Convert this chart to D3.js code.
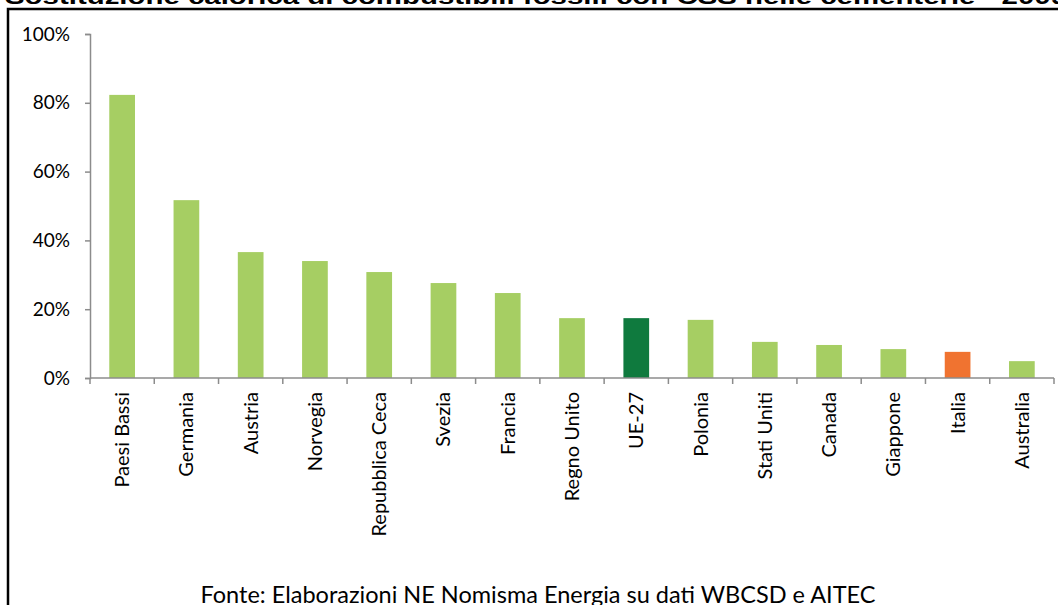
<!DOCTYPE html>
<html>
<head>
<meta charset="utf-8">
<script src="https://cdn.jsdelivr.net/npm/d3@7"></script>
<style>
  body{margin:0;background:#fff;}
  svg{display:block;}
</style>
</head>
<body>
<svg id="chart" width="1058" height="605"></svg>
<script>
// data
var categories = ["Paesi Bassi","Germania","Austria","Norvegia","Repubblica Ceca","Svezia","Francia","Regno Unito","UE-27","Polonia","Stati Uniti","Canada","Giappone","Italia","Australia"];
var values = [0.823,0.517,0.366,0.340,0.308,0.276,0.247,0.174,0.174,0.169,0.105,0.096,0.084,0.076,0.049];
var highlight = {"UE-27":"#0f7a3e","Italia":"#f07330"};
var yTicks = [0,0.2,0.4,0.6,0.8,1];
var title = "Sostituzione calorica di combustibili fossili con CSS nelle cementerie - 2009";
var source = "Fonte: Elaborazioni NE Nomisma Energia su dati WBCSD e AITEC";

var svg = d3.select("#chart");
var mLeft = 90, mRight = 1054, mTop = 34, mBottom = 378;

// title, cut off by the top of the frame
svg.append("text")
	.attr("x",5)
	.attr("y",4)
	.attr("font-family","Liberation Sans, Arial, sans-serif")
	.attr("font-weight","bold")
	.attr("font-size",22)
	.attr("textLength",1062)
	.attr("lengthAdjust","spacingAndGlyphs")
	.attr("fill","#000")
	.text(title);

// frame
svg.append("path")
	.attr("d","M8,605 L8,9 L1058,9")
	.attr("fill","none")
	.attr("stroke","#000")
	.attr("stroke-width",2.5);

var x = d3.scaleBand()
	.domain(categories)
	.range([mLeft,mRight])
	.paddingInner(0.6)
	.paddingOuter(0.3);

var y = d3.scaleLinear()
	.domain([0,1])
	.range([mBottom,mTop]);

svg.selectAll("rect.bar")
	.data(values)
	.enter()
	.append("rect")
	.attr("class","bar")
	.attr("x",function(d,i){ return x(categories[i]); })
	.attr("y",function(d){ return y(d); })
	.attr("width",x.bandwidth())
	.attr("height",function(d){ return y(0)-y(d); })
	.attr("fill",function(d,i){ return highlight[categories[i]] || "#a6ce63"; });

// y axis
var yAxis = svg.append("g")
	.attr("transform","translate("+mLeft+",0)")
	.call(d3.axisLeft(y).tickValues(yTicks).tickFormat(d3.format(".0%")).tickSize(5).tickPadding(15));
yAxis.select(".domain").attr("stroke","#8c8c8c").attr("stroke-width",1.5);
yAxis.selectAll(".tick line").attr("stroke","#8c8c8c").attr("stroke-width",1.5);
yAxis.selectAll("text")
	.attr("font-family","Lato, sans-serif")
	.attr("font-size",19)
	.attr("fill","#000");

// x axis with ticks between categories
var xg = svg.append("g");
xg.append("line")
	.attr("x1",mLeft).attr("x2",mRight)
	.attr("y1",mBottom).attr("y2",mBottom)
	.attr("stroke","#8c8c8c").attr("stroke-width",1.5);
var bounds = d3.range(categories.length+1).map(function(i){ return mLeft + i*x.step(); });
xg.selectAll("line.tk")
	.data(bounds)
	.enter()
	.append("line")
	.attr("class","tk")
	.attr("x1",function(d){ return d; })
	.attr("x2",function(d){ return d; })
	.attr("y1",mBottom)
	.attr("y2",mBottom+6)
	.attr("stroke","#8c8c8c").attr("stroke-width",1.5);

xg.selectAll("text.lab")
	.data(categories)
	.enter()
	.append("text")
	.attr("class","lab")
	.attr("transform",function(d){ return "translate("+(x(d)+x.bandwidth()/2+7)+","+(mBottom+14)+") rotate(-90)"; })
	.attr("text-anchor","end")
	.attr("font-family","Lato, sans-serif")
	.attr("font-size",20)
	.attr("fill","#000")
	.text(function(d){ return d; });

// source
svg.append("text")
	.attr("x",538)
	.attr("y",603)
	.attr("text-anchor","middle")
	.attr("font-family","Lato, sans-serif")
	.attr("font-size",23.5)
	.attr("fill","#000")
	.text(source);
</script>
</body>
</html>
